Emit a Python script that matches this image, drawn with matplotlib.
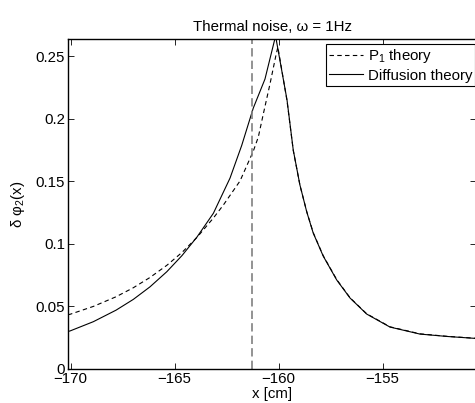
import matplotlib
matplotlib.use("Agg")
import matplotlib.pyplot as plt

plt.rcParams['font.family'] = ['Liberation Sans', 'DejaVu Sans']
plt.rcParams['mathtext.fontset'] = 'custom'
plt.rcParams['mathtext.rm'] = 'Liberation Sans'
plt.rcParams['mathtext.it'] = 'Liberation Sans:italic'
plt.rcParams['font.size'] = 10.8

# diffusion theory (solid)
x_diff = [-170.13, -170.03, -168.91, -167.82, -166.99, -166.19, -165.38, -164.65,
          -163.93, -163.14, -162.34, -161.78, -161.22, -160.66, -160.15, -159.60,
          -159.30, -158.98, -158.65, -158.34, -157.86, -157.21, -156.57, -155.77,
          -154.65, -153.21, -151.91, -150.5]
y_diff = [0.0300, 0.0304, 0.0378, 0.0470, 0.0556, 0.0656, 0.0777, 0.0906,
          0.1054, 0.1244, 0.1525, 0.1785, 0.2085, 0.2316, 0.2660, 0.2149,
          0.1749, 0.1470, 0.1254, 0.1086, 0.0902, 0.0711, 0.0567, 0.0439,
          0.0335, 0.0279, 0.0260, 0.0244]

# P1 theory (dashed)
x_p1 = [-170.13, -170.03, -168.91, -167.82, -166.99, -166.19, -165.38, -164.65,
        -163.93, -163.14, -162.66, -161.86, -161.22, -160.98, -160.74, -160.42,
        -160.13, -160.04, -159.60, -159.30, -158.98, -158.65, -158.34, -157.86,
        -157.21, -156.57, -155.77, -154.65, -153.21, -151.91, -150.5]
y_p1 = [0.0434, 0.0437, 0.0500, 0.0577, 0.0649, 0.0731, 0.0828, 0.0931,
        0.1051, 0.1206, 0.1310, 0.1502, 0.1741, 0.1853, 0.2037, 0.2276,
        0.2508, 0.2572, 0.2142, 0.1746, 0.1469, 0.1256, 0.1089, 0.0905,
        0.0714, 0.0569, 0.0441, 0.0337, 0.0281, 0.0261, 0.0245]

x_marker = -161.28

xticks = [-170, -165, -160, -155]
yticks = [0, 0.05, 0.1, 0.15, 0.2, 0.25]

fig = plt.figure(figsize=(4.75, 4.03), dpi=100)
ax = fig.add_axes([68/475, 34/403, 408.5/475, 330/403])

ax.plot(x_p1, y_p1, 'k--', lw=0.8, dashes=(4, 3), label='P$_1$ theory')
ax.plot(x_diff, y_diff, 'k-', lw=0.8, label='Diffusion theory')
ax.axvline(x_marker, color='0.5', ls='--', lw=1.2, dashes=(5, 2.5))

ax.set_xlim(-170.13, -150.49)
ax.set_ylim(0, 0.2636)
ax.set_xticks(xticks)
ax.set_yticks(yticks)
ax.set_xticklabels([str(t).replace('-', '\u2212') for t in xticks])
ax.set_yticklabels(['0', '0.05', '0.1', '0.15', '0.2', '0.25'])
ax.tick_params(direction='in', length=4, width=0.6, top=True, right=True, pad=2)
for s in ax.spines.values():
    s.set_linewidth(1.0)

ax.set_title('Thermal noise, \u03c9 = 1Hz', fontsize=10.8, pad=6)
ax.set_xlabel('x [cm]', labelpad=1)
ax.set_ylabel('\u03b4 \u03c6$_2$(x)', labelpad=6)

leg = ax.legend(loc='upper right', bbox_to_anchor=(0.9965, 0.985), frameon=True,
                fancybox=False, framealpha=1, edgecolor='k', handlelength=2.3,
                handletextpad=0.3, borderpad=0.2, labelspacing=0.25,
                borderaxespad=0)
leg.get_frame().set_linewidth(0.8)

fig.savefig('out.png', dpi=100)
